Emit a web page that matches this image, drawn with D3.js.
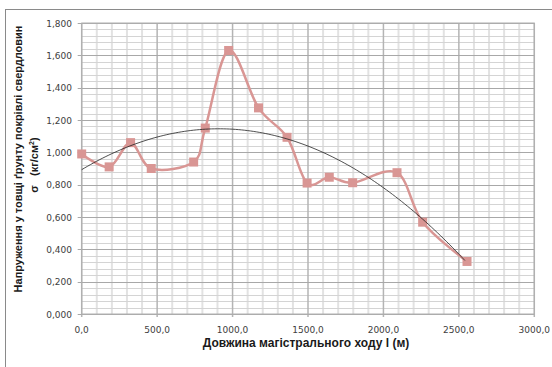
<!DOCTYPE html>
<html lang="uk">
<head>
<meta charset="UTF-8" />
<title>Напруження</title>
<script src="https://cdn.jsdelivr.net/npm/d3@7"></script>
<style>
  body { margin: 0; background: #fff; }
  svg { display: block; }
  .tick-label { font-family: "DejaVu Sans", Verdana, sans-serif; font-size: 9px; fill: #404040; }
  .title { font-family: "Liberation Sans", Arial, sans-serif; font-weight: bold; fill: #1a1a1a; }
</style>
</head>
<body>
<script>
// distance along the main traverse (m)
var lengths = [0, 182, 324, 461, 742, 819, 974, 1172, 1361, 1494, 1641, 1796, 2090, 2260, 2554];
// stress in the roof rock (kg/cm2)
var stress = [0.99, 0.91, 1.06, 0.90, 0.94, 1.15, 1.63, 1.275, 1.093, 0.81, 0.846, 0.812, 0.874, 0.568, 0.325];

var xTicks = [0, 500, 1000, 1500, 2000, 2500, 3000];
var yTicks = [0, 0.2, 0.4, 0.6, 0.8, 1.0, 1.2, 1.4, 1.6, 1.8];

var w = 552, h = 367;
var pLeft = 81.7, pRight = 534.3, pTop = 23, pBottom = 314;

var data = lengths.map(function(d, i) { return { x: d, y: stress[i] }; });

var svg = d3.select("body").append("svg")
  .attr("width", w)
  .attr("height", h);

// outer chart frame (runs off the right and bottom edges)
svg.append("rect")
  .attr("x", 5.5).attr("y", 9.5)
  .attr("width", 600).attr("height", 400)
  .attr("fill", "none")
  .attr("stroke", "#8a8a8a")
  .attr("stroke-width", 1);

var xScale = d3.scaleLinear().domain([0, 3000]).range([pLeft, pRight]);
var yScale = d3.scaleLinear().domain([0, 1.8]).range([pBottom, pTop]);

// minor gridlines
var xMinor = d3.range(0, 3001, 100);
var yMinor = d3.range(0, 1.8001, 0.04);

svg.append("g").selectAll("line")
  .data(xMinor.filter(function(d) { return d % 500 !== 0; }))
  .enter().append("line")
  .attr("x1", function(d) { return xScale(d); })
  .attr("x2", function(d) { return xScale(d); })
  .attr("y1", pTop).attr("y2", pBottom)
  .attr("stroke", "#e2e2e2")
  .attr("stroke-width", 2);

svg.append("g").selectAll("line")
  .data(yMinor)
  .enter().append("line")
  .attr("x1", pLeft).attr("x2", pRight)
  .attr("y1", function(d) { return Math.round(yScale(d)) + 0.5; })
  .attr("y2", function(d) { return Math.round(yScale(d)) + 0.5; })
  .attr("stroke", "#d4d4d4")
  .attr("stroke-width", 1);

// major gridlines
svg.append("g").selectAll("line")
  .data(xTicks)
  .enter().append("line")
  .attr("x1", function(d) { return xScale(d); })
  .attr("x2", function(d) { return xScale(d); })
  .attr("y1", pTop).attr("y2", pBottom + 3)
  .attr("stroke", "#b4b4b4")
  .attr("stroke-width", 1.5);

svg.append("g").selectAll("line")
  .data(yTicks)
  .enter().append("line")
  .attr("x1", pLeft - 4).attr("x2", pRight)
  .attr("y1", function(d) { return Math.round(yScale(d)) + 0.5; })
  .attr("y2", function(d) { return Math.round(yScale(d)) + 0.5; })
  .attr("stroke", "#a8a8a8")
  .attr("stroke-width", 1);

// plot area border
svg.append("rect")
  .attr("x", pLeft).attr("y", pTop)
  .attr("width", pRight - pLeft).attr("height", pBottom - pTop)
  .attr("fill", "none")
  .attr("stroke", "#b0b0b0");

// tick labels
var fmtY = function(d) { return d3.format(".3f")(d).replace(".", ","); };
var fmtX = function(d) { return d3.format(".1f")(d).replace(".", ","); };

svg.append("g").selectAll("text")
  .data(yTicks)
  .enter().append("text")
  .attr("class", "tick-label")
  .attr("x", 72)
  .attr("y", function(d) { return yScale(d) + 3.5; })
  .attr("text-anchor", "end")
  .text(fmtY);

svg.append("g").selectAll("text")
  .data(xTicks)
  .enter().append("text")
  .attr("class", "tick-label")
  .attr("x", function(d) { return xScale(d); })
  .attr("y", 333)
  .attr("text-anchor", "middle")
  .text(fmtX);

// polynomial (order 2) trendline, least squares fit of the data
function quadFit(pts) {
  var s = [0, 0, 0, 0, 0], t = [0, 0, 0];
  var k = 1000;
  pts.forEach(function(p) {
    var x = p.x / k;
    for (var i = 0; i < 5; i++) s[i] += Math.pow(x, i);
    for (var j = 0; j < 3; j++) t[j] += p.y * Math.pow(x, j);
  });
  var m = [[s[0], s[1], s[2], t[0]], [s[1], s[2], s[3], t[1]], [s[2], s[3], s[4], t[2]]];
  for (var c = 0; c < 3; c++) {
    for (var r = c + 1; r < 3; r++) {
      var f = m[r][c] / m[c][c];
      for (var q = c; q < 4; q++) m[r][q] -= f * m[c][q];
    }
  }
  var coef = [0, 0, 0];
  for (var r2 = 2; r2 >= 0; r2--) {
    var v = m[r2][3];
    for (var q2 = r2 + 1; q2 < 3; q2++) v -= m[r2][q2] * coef[q2];
    coef[r2] = v / m[r2][r2];
  }
  return function(x) { var u = x / k; return coef[0] + coef[1] * u + coef[2] * u * u; };
}
var trend = quadFit(data);
var trendPts = d3.range(0, 2554 + 1, 20).map(function(x) { return { x: x, y: trend(x) }; });

var line = d3.line()
  .x(function(d) { return xScale(d.x); })
  .y(function(d) { return yScale(d.y); });

// smoothed data line
var smooth = d3.line()
  .curve(d3.curveCardinal.tension(0))
  .x(function(d) { return xScale(d.x); })
  .y(function(d) { return yScale(d.y); });

svg.append("path")
  .datum(data)
  .attr("d", smooth)
  .attr("fill", "none")
  .attr("stroke", "#d99694")
  .attr("stroke-width", 2.5);

svg.append("g").selectAll("rect")
  .data(data)
  .enter().append("rect")
  .attr("x", function(d) { return xScale(d.x) - 4.5; })
  .attr("y", function(d) { return yScale(d.y) - 4.5; })
  .attr("width", 9).attr("height", 9)
  .attr("fill", "#d99694");

svg.append("path")
  .datum(trendPts)
  .attr("d", line)
  .attr("fill", "none")
  .attr("stroke", "#222")
  .attr("stroke-width", 0.8);

// axis titles
svg.append("text")
  .attr("class", "title")
  .attr("x", 306).attr("y", 347)
  .attr("text-anchor", "middle")
  .style("font-size", "12px")
  .text("Довжина магістрального  ходу  l (м)");

svg.append("text")
  .attr("class", "title")
  .attr("transform", "translate(22,159) rotate(-90)")
  .attr("text-anchor", "middle")
  .style("font-size", "11px")
  .text("Напруження у товщі  ґрунту покрівлі  свердловин");

svg.append("text")
  .attr("class", "title")
  .attr("transform", "translate(38,165) rotate(-90)")
  .attr("text-anchor", "middle")
  .style("font-size", "11px")
  .html("σ &#160;&#160;(кг/см<tspan dy='-4' font-size='7px'>2</tspan><tspan dy='4'>)</tspan>");
</script>
</body>
</html>
